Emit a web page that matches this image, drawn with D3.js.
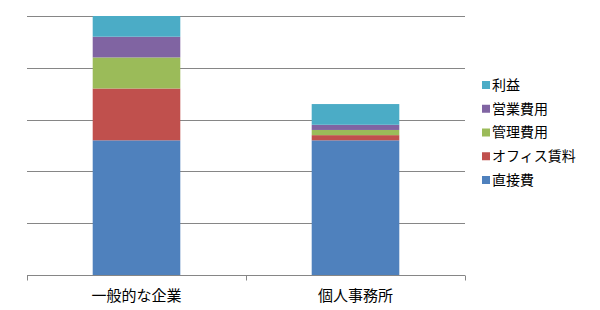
<!DOCTYPE html>
<html>
<head>
<meta charset="utf-8">
<script src="https://cdn.jsdelivr.net/npm/d3@7"></script>
<style>
  body { margin: 0; background: #fff; }
  text { font-family: "Noto Sans CJK JP", sans-serif; fill: #000; }
</style>
</head>
<body>
<div id="chart"></div>
<script>
// data
const categories = ["一般的な企業", "個人事務所"];
const seriesNames = ["直接費", "オフィス賃料", "管理費用", "営業費用", "利益"];
const seriesColors = ["#4F81BD", "#C0504D", "#9BBB59", "#8064A2", "#4BACC6"];
const directCost = [52, 52];
const officeRent = [20, 2];
const adminCost = [12, 2];
const salesCost = [8, 2];
const profit = [8, 8];
const yTicks = [0, 20, 40, 60, 80, 100];

const seriesValues = [directCost, officeRent, adminCost, salesCost, profit];

// table for d3.stack
const table = categories.map(function(c, i) {
  const row = {cat: c};
  seriesNames.forEach(function(s, j) { row[s] = seriesValues[j][i]; });
  return row;
});

const W = 600, H = 310;
const margin = {top: 16, right: 135, bottom: 35, left: 27};
const width = W - margin.left - margin.right,
      height = H - margin.top - margin.bottom;

const svg = d3.select("#chart").append("svg")
  .attr("width", W).attr("height", H)
  .append("g")
  .attr("transform", "translate(" + margin.left + "," + margin.top + ")");

const x = d3.scaleBand().domain(categories).range([0, width]).paddingInner(0.6).paddingOuter(0.3);
const y = d3.scaleLinear().domain([0, 100]).range([height, 0]);

// gridlines
svg.selectAll(".grid")
  .data(yTicks.slice(1))
  .join("line")
  .attr("x1", 0).attr("x2", width)
  .attr("y1", d => Math.round(y(d)) + 0.5).attr("y2", d => Math.round(y(d)) + 0.5)
  .attr("stroke", "#868686").attr("stroke-width", 1);

// bars
const stacked = d3.stack().keys(seriesNames)(table);
svg.selectAll(".layer")
  .data(stacked)
  .join("g")
  .attr("fill", (d, i) => seriesColors[i])
  .selectAll("rect")
  .data(d => d)
  .join("rect")
  .attr("x", d => x(d.data.cat))
  .attr("width", x.bandwidth())
  .attr("y", d => y(d[1]))
  .attr("height", d => y(d[0]) - y(d[1]));

// x axis
const xAxis = svg.append("g")
  .attr("transform", "translate(0," + (Math.round(height) + 0.5) + ")");
xAxis.append("line").attr("x1", 0).attr("x2", width)
  .attr("stroke", "#868686");
const bounds = [0, width / 2, width];
xAxis.selectAll(".tick")
  .data(bounds)
  .join("line")
  .attr("x1", d => Math.round(d) + 0.5).attr("x2", d => Math.round(d) + 0.5)
  .attr("y1", 0).attr("y2", 5)
  .attr("stroke", "#868686");
xAxis.selectAll(".lbl")
  .data(categories)
  .join("text")
  .attr("x", d => x(d) + x.bandwidth() / 2)
  .attr("y", 20)
  .attr("dy", "0.35em")
  .attr("text-anchor", "middle")
  .style("font-size", "15px")
  .text(d => d);

// legend (reverse order)
const legend = d3.select("svg").append("g")
  .attr("transform", "translate(482,85)");
const items = seriesNames.map((s, i) => ({name: s, color: seriesColors[i]})).reverse();
const li = legend.selectAll("g")
  .data(items)
  .join("g")
  .attr("transform", (d, i) => "translate(0," + (i * 23.75) + ")");
li.append("rect")
  .attr("x", 0).attr("y", -4).attr("width", 8).attr("height", 8)
  .attr("fill", d => d.color);
li.append("text")
  .attr("x", 10).attr("y", 0).attr("dy", "0.35em")
  .style("font-size", "14px")
  .text(d => d.name);
</script>
</body>
</html>
